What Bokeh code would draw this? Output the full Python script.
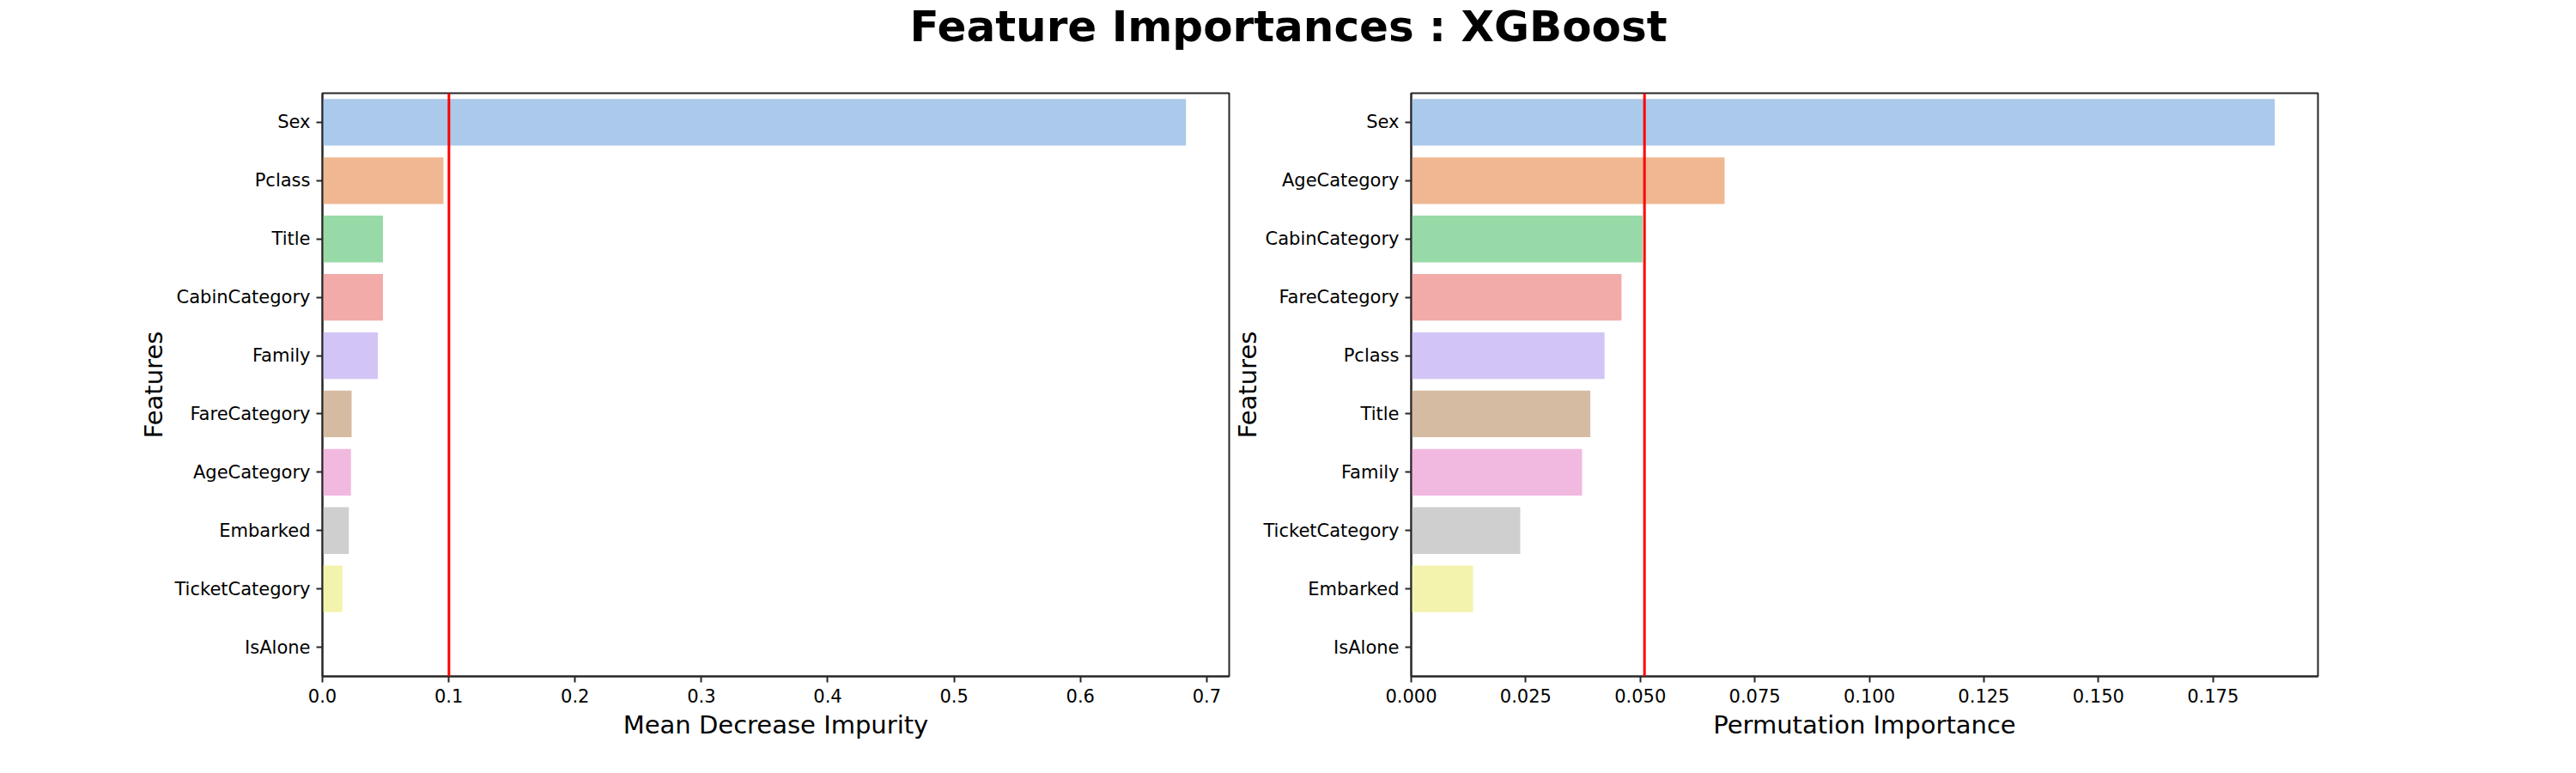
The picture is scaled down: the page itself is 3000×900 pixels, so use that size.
import colorsys
import numpy as np
from bokeh.plotting import figure
from bokeh.layouts import column, row
from bokeh.models import FactorRange, Range1d, Span, FixedTicker, NumeralTickFormatter, ColumnDataSource
from bokeh.core.properties import value
from bokeh.embed import file_html
from bokeh.resources import INLINE

# ---------------- data ----------------
title_text = "Feature Importances : XGBoost"

mdi_features = ["Sex", "Pclass", "Title", "CabinCategory", "Family",
                "FareCategory", "AgeCategory", "Embarked", "TicketCategory", "IsAlone"]
mdi_values = [0.6836, 0.0958, 0.0479, 0.0479, 0.0439, 0.0231, 0.0226, 0.0209, 0.0158, 0.0]
mdi_ticks = [0.0, 0.1, 0.2, 0.3, 0.4, 0.5, 0.6, 0.7]
mdi_label = "Mean Decrease Impurity"

perm_features = ["Sex", "AgeCategory", "CabinCategory", "FareCategory", "Pclass",
                 "Title", "Family", "TicketCategory", "Embarked", "IsAlone"]
perm_values = [0.1885, 0.0684, 0.0505, 0.0459, 0.0422, 0.0391, 0.0373, 0.0238, 0.0135, 0.0]
perm_ticks = [0.0, 0.025, 0.05, 0.075, 0.1, 0.125, 0.15, 0.175]
perm_label = "Permutation Importance"

y_label = "Features"

pastel = ["#a1c9f4", "#ffb482", "#8de5a1", "#ff9f9b", "#d0bbff",
          "#debb9b", "#fab0e4", "#cfcfcf", "#fffea3", "#b9f2f0"]


def desat(hx, prop=0.75):
    r, g, b = (int(hx[i:i + 2], 16) / 255 for i in (1, 3, 5))
    h, l, s = colorsys.rgb_to_hls(r, g, b)
    r, g, b = colorsys.hls_to_rgb(h, l, s * prop)
    return "#%02x%02x%02x" % (round(r * 255), round(g * 255), round(b * 255))


colors = [desat(c) for c in pastel]

FONT = "DejaVu Sans"
SPINE = "#262626"


def make_panel(features, values, ticks, fmt, xlabel, width, mb_left, mb_right, ylab_standoff):
    src = ColumnDataSource(dict(y=features, right=values, color=colors[:len(features)]))
    p = figure(width=width, height=820, output_backend="svg", toolbar_location=None,
               title_location=None,
               y_range=FactorRange(factors=list(reversed(features))),
               x_range=Range1d(0, max(values) * 1.05),
               min_border_left=mb_left, min_border_right=mb_right,
               min_border_top=28, min_border_bottom=113)
    p.hbar(y="y", right="right", left=0, height=0.8, color="color", line_color=None, source=src)
    p.add_layout(Span(location=float(np.mean(values)), dimension="height",
                      line_color="#ff0000", line_width=3))
    p.grid.visible = False
    p.outline_line_color = SPINE
    p.outline_line_width = 2
    p.outline_line_alpha = 1
    for ax in (p.xaxis[0], p.yaxis[0]):
        ax.axis_line_color = SPINE
        ax.axis_line_width = 2
        ax.major_tick_line_color = SPINE
        ax.major_tick_line_width = 2
        ax.major_tick_out = 7
        ax.major_tick_in = 0
        ax.minor_tick_line_color = None
        ax.major_label_text_font = FONT
        ax.major_label_text_font_size = "21px"
        ax.major_label_text_color = "#000000"
        ax.major_label_standoff = 7
        ax.axis_label_text_font = FONT
        ax.axis_label_text_font_size = "29px"
        ax.axis_label_text_font_style = "normal"
        ax.axis_label_text_color = "#000000"
    p.xaxis.ticker = FixedTicker(ticks=ticks)
    p.xaxis.formatter = NumeralTickFormatter(format=fmt)
    p.xaxis.axis_label = xlabel
    p.xaxis.axis_label_standoff = 6
    p.yaxis.axis_label = y_label
    p.yaxis.axis_label_standoff = ylab_standoff
    return p


p1 = make_panel(mdi_features, mdi_values, mdi_ticks, "0.0", mdi_label, 1433, 375, 2, 4)
p2 = make_panel(perm_features, perm_values, perm_ticks, "0.000", perm_label, 1567, 210, 301, -2)

pt = figure(width=3000, height=80, output_backend="svg", toolbar_location=None,
            title_location=None,
            x_range=Range1d(0, 3000), y_range=Range1d(0, 80),
            min_border=0, outline_line_color=None)
pt.axis.visible = False
pt.grid.visible = False
pt.text(x=[1500], y=[50], text=[title_text], text_align="center", text_baseline="alphabetic",
        text_font=value(FONT), text_font_size="50px", text_font_style="bold", text_color="#000000")

layout = column(pt, row(p1, p2))
open("out.html", "w").write(file_html(layout, INLINE))
